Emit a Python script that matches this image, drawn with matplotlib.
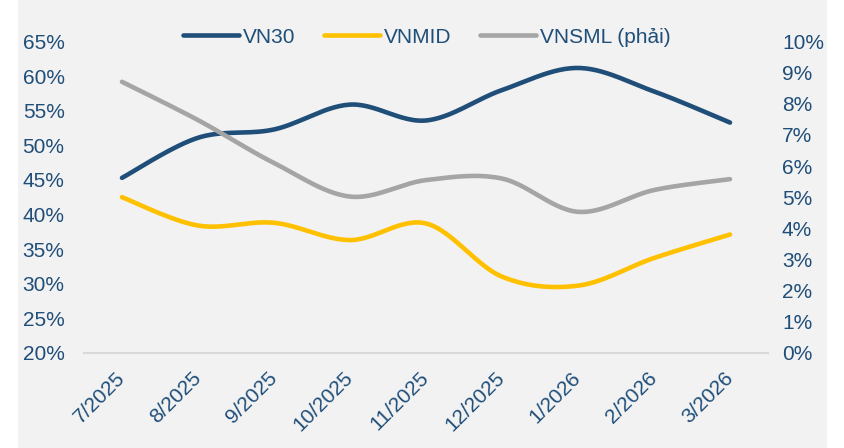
import numpy as np
import matplotlib.pyplot as plt
from matplotlib.patches import Rectangle

plt.rcParams["font.family"] = ["Liberation Sans", "DejaVu Sans"]

# Data
months = ["7/2025", "8/2025", "9/2025", "10/2025", "11/2025",
          "12/2025", "1/2026", "2/2026", "3/2026"]
vn30 = [45.3, 51.1, 52.3, 55.9, 53.6, 58.0, 61.2, 57.8, 53.3]
vnmid = [42.5, 38.4, 38.8, 36.3, 38.7, 31.0, 29.7, 33.7, 37.1]
vnsml = [8.71, 7.48, 6.10, 5.02, 5.55, 5.60, 4.53, 5.23, 5.58]

text_color = "#1f4e79"
fs = 15


def smooth(y, steps=30):
    # Excel-like smoothed line (Catmull-Rom as cubic Bezier)
    y = np.asarray(y, dtype=float)
    x = np.arange(len(y), dtype=float)
    pts = np.column_stack([x, y])
    out = []
    for i in range(len(pts) - 1):
        p0 = pts[i - 1] if i > 0 else pts[i]
        p1 = pts[i]
        p2 = pts[i + 1]
        p3 = pts[i + 2] if i + 2 < len(pts) else pts[i + 1]
        c1 = p1 + (p2 - p0) / 6
        c2 = p2 - (p3 - p1) / 6
        t = np.linspace(0, 1, steps)[:, None]
        seg = ((1 - t) ** 3) * p1 + 3 * ((1 - t) ** 2) * t * c1 \
            + 3 * (1 - t) * t ** 2 * c2 + t ** 3 * p2
        out.append(seg if i == 0 else seg[1:])
    out = np.vstack(out)
    return out[:, 0], out[:, 1]


fig = plt.figure(figsize=(8.45, 4.48), dpi=100)
fig.patch.set_facecolor("white")
fig.patches.append(Rectangle((18 / 845, 0), (827 - 18) / 845, 1,
                             transform=fig.transFigure,
                             facecolor="#f2f2f2", edgecolor="none", zorder=-10))

ax = fig.add_axes([84 / 845, 1 - 352.7 / 448, (768 - 84) / 845, (352.7 - 41.7) / 448])
ax.set_facecolor("none")
ax2 = ax.twinx()
ax2.set_facecolor("none")

xs, ys = smooth(vn30)
l1, = ax.plot(xs, ys, color="#1f4e79", lw=3.3, solid_capstyle="round", zorder=3)
xs, ys = smooth(vnmid)
l2, = ax.plot(xs, ys, color="#ffc000", lw=3.3, solid_capstyle="round", zorder=3)
xs, ys = smooth(vnsml)
l3, = ax2.plot(xs, ys, color="#a5a5a5", lw=3.3, solid_capstyle="round", zorder=2)

ax.set_xlim(-0.5, len(months) - 0.5)
ax.set_ylim(20, 65)
ax2.set_ylim(0, 10)

ax.set_yticks(np.arange(20, 66, 5))
ax.set_yticklabels([f"{v}%" for v in range(20, 66, 5)])
ax2.set_yticks(np.arange(0, 11, 1))
ax2.set_yticklabels([f"{v}%" for v in range(0, 11)])

ax.set_xticks(range(len(months)))
ax.set_xticklabels(months, rotation=45, ha="right", va="center",
                   rotation_mode="anchor")

for a in (ax, ax2):
    for s in a.spines.values():
        s.set_visible(False)
    a.tick_params(length=0, labelsize=fs, labelcolor=text_color)
ax.tick_params(axis="y", pad=14)
ax2.tick_params(axis="y", pad=10)
ax.tick_params(axis="x", pad=16)

ax.spines["bottom"].set_visible(True)
ax.spines["bottom"].set_color("#d9d9d9")
ax.spines["bottom"].set_linewidth(1.5)

fig.legend([l1, l2, l3], ["VN30", "VNMID", "VNSML (phải)"],
           loc="center", bbox_to_anchor=(0.505, 0.917), ncol=3,
           frameon=False, fontsize=fs, labelcolor=text_color,
           handlelength=2.7, handletextpad=0.2, columnspacing=1.35)

plt.savefig("out.png", dpi=100)
